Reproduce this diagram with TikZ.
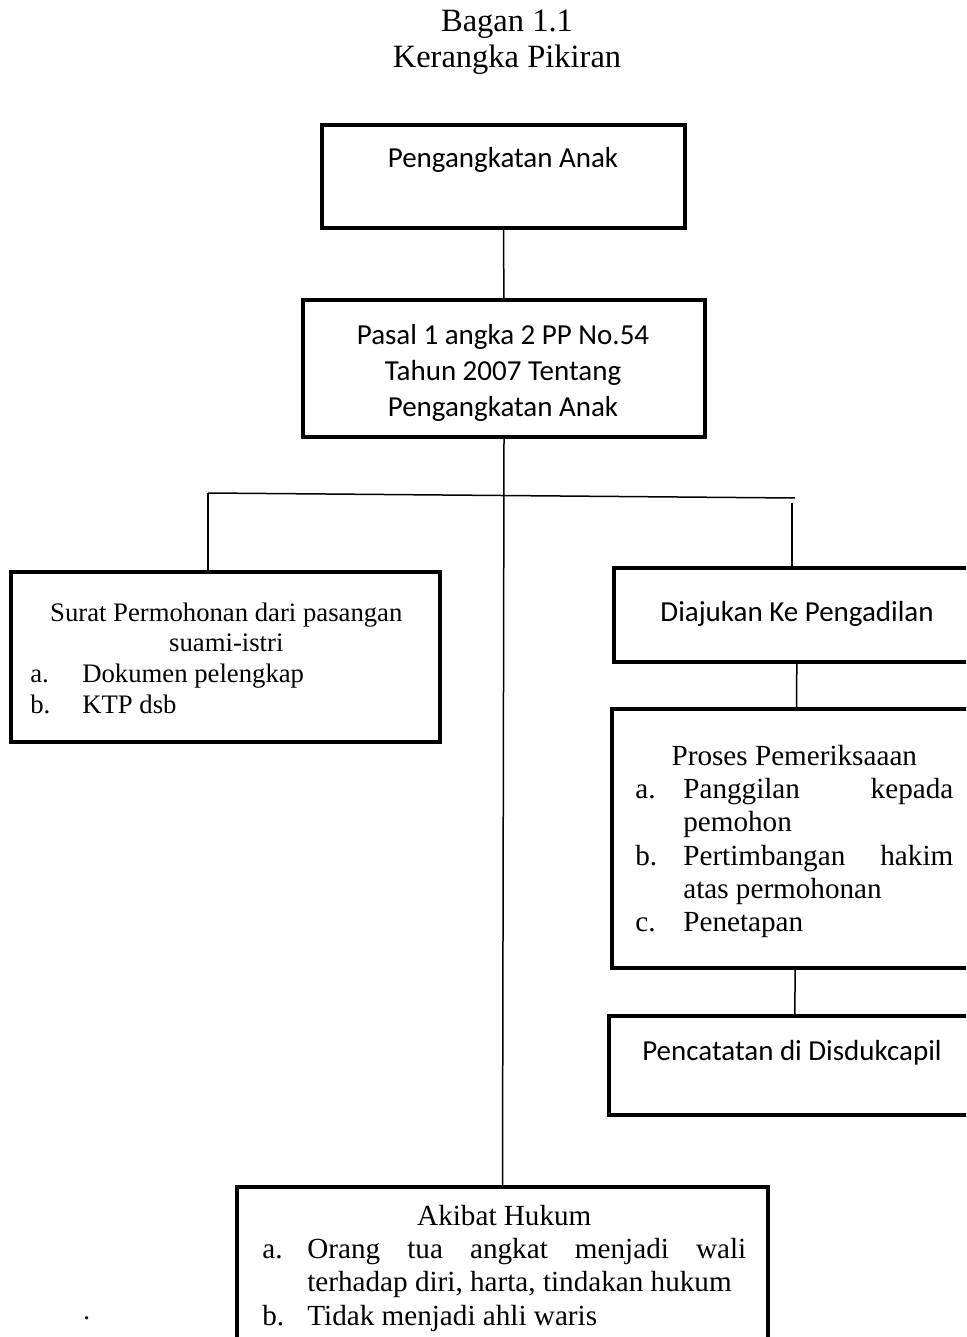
\documentclass[tikz,border=0pt]{standalone}
\usepackage{fontspec}
\setmainfont{Liberation Serif}
\newfontfamily\carlito{Carlito}
\usetikzlibrary{positioning, fit}

% kolom teks dengan daftar a., b., c.
\newcommand{\colbox}[2]{\vtop{\hsize=#1\parindent=0pt\sloppy #2}}
\newcommand{\itm}[3]{\par\hangindent=#1\hangafter=1\noindent\makebox[#1][l]{#2}#3\par}

\begin{document}
\begin{tikzpicture}[
  x=0.02cm, y=-0.02cm,
  box/.style={draw, line width=0.08cm, inner sep=0pt},
  conn/.style={line width=0.03cm},
  ttl/.style={font=\fontsize{18.5}{21}\selectfont, anchor=base, inner sep=0pt},
  sans/.style={font=\carlito\fontsize{16.5}{20.7}\selectfont, align=center, inner sep=0pt},
  serif/.style={font=\fontsize{15.2}{17.6}\selectfont, anchor=base west, inner sep=0pt},
  serifbig/.style={serif, font=\fontsize{16.6}{19}\selectfont}
]
  \useasboundingbox (0,0) rectangle (966,1337);
  \clip (0,0) rectangle (966,1337);

  % Judul
  \node[ttl] (judul1) at (507,32) {Bagan 1.1};
  \node[ttl] (judul2) at (507,68) {Kerangka Pikiran};

  % Kotak atas
  \node[box, fit={(322,125) (685,228)}] (anak) {};
  \node[sans, anchor=base] (anakT) at (503,168) {Pengangkatan Anak};

  \node[box, fit={(303,300) (705,437)}] (pasal) {};
  \node[sans] (pasalT) at (503,373)
    {Pasal 1 angka 2 PP No.54\\Tahun 2007 Tentang\\Pengangkatan Anak};

  % Cabang kiri
  \node[box, fit={(11,572) (440,742)}] (surat) {};
  \node[serif] (suratT) at (30,621) {\colbox{7.84cm}{%
    {\centering Surat Permohonan dari pasangan\\suami-istri\par}%
    \itm{1.04cm}{a.}{Dokumen pelengkap}%
    \itm{1.04cm}{b.}{KTP dsb}}};

  % Cabang kanan
  \node[box, fit={(614,568) (980,662)}] (aju) {};
  \node[sans, anchor=base] (ajuT) at (797,621) {Diajukan Ke Pengadilan};

  \node[box, fit={(612,709) (980,968)}] (proses) {};
  \node[serifbig] (prosesT) at (635,765) {\colbox{6.36cm}{%
    {\centering Proses Pemeriksaaan\par}%
    \itm{0.96cm}{a.}{Panggilan kepada\linebreak pemohon}%
    \itm{0.96cm}{b.}{Pertimbangan hakim\linebreak atas permohonan}%
    \itm{0.96cm}{c.}{Penetapan}}};

  \node[box, fit={(609,1016) (980,1115)}] (catat) {};
  \node[sans, anchor=base] (catatT) at (792,1060) {Pencatatan di Disdukcapil};

  % Akibat hukum
  \node[box, fit={(237,1187) (768,1360)}] (akibat) {};
  \node[serifbig] (akibatT) at (262,1225) {\colbox{9.68cm}{%
    {\centering Akibat Hukum\par}%
    \itm{0.9cm}{a.}{Orang tua angkat menjadi wali\linebreak terhadap diri, harta, tindakan hukum}%
    \itm{0.9cm}{b.}{Tidak menjadi ahli waris}}};
  \node[serif] (titik) at (83,1319) {.};

  % Garis penghubung
  \coordinate (barL) at (208,493);
  \coordinate (barR) at (795,498);
  \coordinate (dropR) at (792,503);
  \draw[conn] (anak) -- (pasal);
  \draw[conn] (pasal.south) -- (akibat.north);
  \draw[conn] (barL) -- (barR);
  \draw[conn] (barL) -- (barL |- surat.north);
  \draw[conn] (dropR) -- (dropR |- aju.north);
  \draw[conn] (aju) -- (proses);
  \draw[conn] (proses) -- (catat);
\end{tikzpicture}
\end{document}
